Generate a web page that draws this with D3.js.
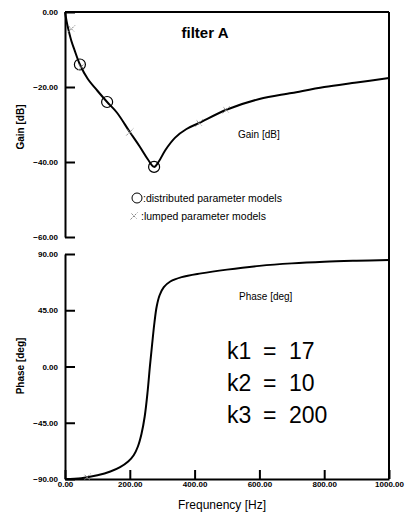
<!DOCTYPE html>
<html><head><meta charset="utf-8">
<script src="https://cdn.jsdelivr.net/npm/d3@7/dist/d3.min.js"></script>
<style>
html,body{margin:0;padding:0;background:#fff;}
svg{display:block;font-family:"Liberation Sans",Arial,sans-serif;}
</style></head>
<body><svg id="c" width="410" height="516"></svg>
<script>
// ---- data ----
const freqTicks = [0, 200, 400, 600, 800, 1000];
const gainTicks = [0, -20, -40, -60];
const phaseTicks = [90, 45, 0, -45, -90];

const gainFreq = [0, 5, 10, 20, 30, 46, 70, 100, 130, 160, 200, 230, 255, 275, 290, 310, 340, 375, 414, 500, 600, 700, 800, 900, 1000];
const gainDb   = [0, -2.5, -4.5, -7.8, -10.3, -14, -17.8, -21, -24, -26.8, -32, -35.8, -39.2, -41.3, -39.8, -36.8, -33.5, -31.2, -29.6, -26, -23.2, -21.6, -20, -18.8, -17.6];

const phaseFreq = [0, 50, 100, 140, 170, 195, 212, 225, 236, 246, 255, 262, 269, 276, 283, 292, 305, 325, 360, 420, 500, 600, 700, 800, 900, 1000];
const phaseDeg  = [-90, -89.4, -87, -84, -80.5, -76, -71, -64, -54, -40, -20, 0, 18, 35, 48, 57, 63.5, 68, 71.5, 74.5, 77.5, 80.5, 82.5, 83.8, 84.6, 85.2];

const distFreq = [46, 130, 275];
const distGain = [-14, -24, -41.3];
const lumpFreq = [20, 50, 200, 414, 497];
const lumpGain = [-4.5, -14.6, -32, -29.6, -26.1];
const lumpPhaseFreq = [68];
const lumpPhaseDeg = [-88.6];

const title = "filter A";
const params = [["k1", "17"], ["k2", "10"], ["k3", "200"]];

// ---- scales ----
const svg = d3.select("#c");
const x = d3.scaleLinear().domain([0, 1000]).range([65, 389]);
const yG = d3.scaleLinear().domain([0, -60]).range([12, 237]);
const yP = d3.scaleLinear().domain([90, -90]).range([254, 479]);
const fmt = d3.format(".2f");

function styleAxis(g) {
  g.selectAll(".domain").attr("stroke", "#000").attr("stroke-width", 2);
  g.selectAll(".tick line").attr("stroke", "#000").attr("stroke-width", 2);
  g.selectAll(".tick text").attr("fill", "#000").attr("font-size", 8).attr("font-weight", "bold");
}

// frame lines (top border of gain, right border)
svg.append("line").attr("x1", x(0)).attr("x2", x(1000)).attr("y1", yG(0)).attr("y2", yG(0))
  .attr("stroke", "#000").attr("stroke-width", 2);
svg.append("line").attr("x1", x(1000)).attr("x2", x(1000)).attr("y1", yG(0)).attr("y2", yP(-90))
  .attr("stroke", "#000").attr("stroke-width", 2);

// left axes
const gA = svg.append("g").attr("transform", `translate(${x(0)},0)`)
  .call(d3.axisLeft(yG).tickValues(gainTicks).tickFormat(fmt).tickSize(-10).tickSizeOuter(0).tickPadding(7));
styleAxis(gA);
const pA = svg.append("g").attr("transform", `translate(${x(0)},0)`)
  .call(d3.axisLeft(yP).tickValues(phaseTicks).tickFormat(fmt).tickSize(-10).tickSizeOuter(0).tickPadding(7));
styleAxis(pA);

// bottom axis
const bA = svg.append("g").attr("transform", `translate(0,${yP(-90)})`)
  .call(d3.axisBottom(x).tickValues(freqTicks).tickFormat(fmt).tickSize(-9).tickSizeOuter(0).tickPadding(3));
styleAxis(bA);
bA.selectAll(".tick text").attr("dy", "0.71em").attr("y", 2);

// axis titles
svg.append("text").attr("transform", `translate(24,127) rotate(-90)`)
  .attr("text-anchor", "middle").attr("font-size", 10).attr("font-weight", "bold").text("Gain [dB]");
svg.append("text").attr("transform", `translate(24,366) rotate(-90)`)
  .attr("text-anchor", "middle").attr("font-size", 10).attr("font-weight", "bold").text("Phase [deg]");
svg.append("text").attr("x", 222).attr("y", 509).attr("text-anchor", "middle")
  .attr("font-size", 12).text("Frequnency [Hz]");

// curves
const gainLine = d3.line().x(d => x(d[0])).y(d => yG(d[1])).curve(d3.curveCatmullRom.alpha(0.5));
svg.append("path").datum(gainFreq.map((f, i) => [f, gainDb[i]]))
  .attr("d", gainLine).attr("fill", "none").attr("stroke", "#000").attr("stroke-width", 2);
const phaseLine = d3.line().x(d => x(d[0])).y(d => yP(d[1])).curve(d3.curveCatmullRom.alpha(0.5));
svg.append("path").datum(phaseFreq.map((f, i) => [f, phaseDeg[i]]))
  .attr("d", phaseLine).attr("fill", "none").attr("stroke", "#000").attr("stroke-width", 2);

// markers
svg.selectAll(".dist").data(distFreq.map((f, i) => [f, distGain[i]])).join("circle")
  .attr("cx", d => x(d[0])).attr("cy", d => yG(d[1])).attr("r", 5.5)
  .attr("fill", "none").attr("stroke", "#000").attr("stroke-width", 1.2);

function cross(sel, px, py) {
  sel.append("path")
    .attr("d", `M${px-3.5},${py+3.5}L${px+3.5},${py-3.5}M${px-2.5},${py-2.5}L${px+2.5},${py+2.5}`)
    .attr("stroke", "#888").attr("stroke-width", 1).attr("stroke-dasharray", "2,1").attr("fill", "none");
}
lumpFreq.forEach((f, i) => cross(svg, x(f), yG(lumpGain[i])));
lumpPhaseFreq.forEach((f, i) => cross(svg, x(f), yP(lumpPhaseDeg[i])));

// legend
svg.append("circle").attr("cx", 137).attr("cy", 198).attr("r", 5)
  .attr("fill", "none").attr("stroke", "#000").attr("stroke-width", 1);
svg.append("text").attr("x", 143).attr("y", 201.5).attr("font-size", 10.5).text(":distributed parameter models");
cross(svg, 134, 216);
svg.append("text").attr("x", 141).attr("y", 220).attr("font-size", 10.5).text(":lumped parameter models");

// in-plot labels
svg.append("text").attr("x", 205).attr("y", 38).attr("text-anchor", "middle")
  .attr("font-size", 15).attr("font-weight", "bold").text(title);
svg.append("text").attr("x", 238).attr("y", 138).attr("font-size", 10).text("Gain [dB]");
svg.append("text").attr("x", 239).attr("y", 300).attr("font-size", 10).text("Phase [deg]");

params.forEach((p, i) => {
  const yy = 359 + i * 32;
  svg.append("text").attr("x", 227).attr("y", yy).attr("font-size", 23).text(p[0]);
  svg.append("text").attr("x", 263).attr("y", yy).attr("font-size", 23).text("=");
  svg.append("text").attr("x", 289).attr("y", yy).attr("font-size", 23).text(p[1]);
});
</script></body></html>
